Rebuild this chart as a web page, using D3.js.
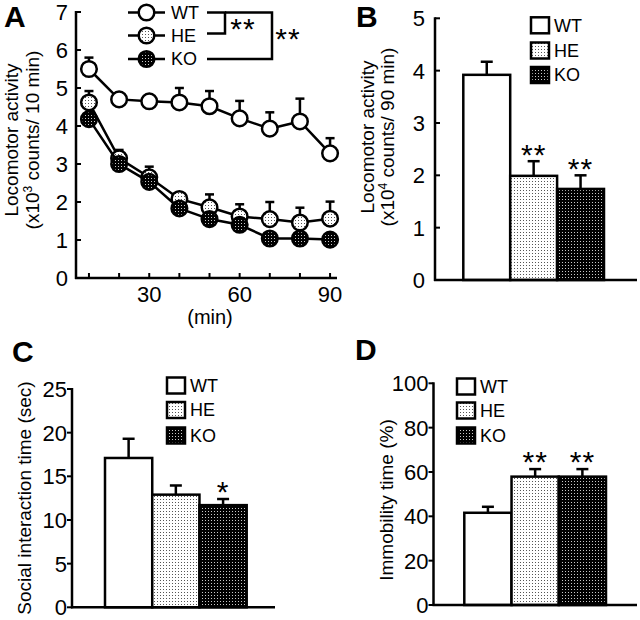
<!DOCTYPE html>
<html><head><meta charset="utf-8">
<script src="https://cdn.jsdelivr.net/npm/d3@7"></script>
<style>
body{margin:0;background:#fff;}
text{font-family:"Liberation Sans",Arial,Helvetica,sans-serif;fill:#000;}
</style></head>
<body>
<svg id="fig" width="640" height="620"></svg>
<script>
// ---------- DATA ----------
const groups = ["WT", "HE", "KO"];
// Panel A: time course (x10^3 counts / 10 min)
const timeMin = [10, 20, 30, 40, 50, 60, 70, 80, 90];
const wtA    = [5.50, 4.70, 4.65, 4.62, 4.52, 4.20, 3.93, 4.12, 3.28];
const wtAErr = [0.30, 0.08, 0.08, 0.38, 0.40, 0.46, 0.43, 0.60, 0.40];
const heA    = [4.62, 3.15, 2.65, 2.08, 1.86, 1.62, 1.55, 1.46, 1.56];
const heAErr = [0.30, 0.22, 0.28, 0.12, 0.34, 0.32, 0.45, 0.39, 0.45];
const koA    = [4.18, 3.00, 2.53, 1.83, 1.55, 1.40, 1.04, 1.04, 1.01];
const koAErr = [0.12, 0.12, 0.12, 0.08, 0.08, 0.08, 0.06, 0.06, 0.06];
const aYTicks = [0, 1, 2, 3, 4, 5, 6, 7];
const aXTicks = [10, 20, 30, 40, 50, 60, 70, 80, 90];
const aXLabels = [30, 60, 90];
// Panel B: total locomotor activity (x10^4 counts / 90 min)
const bValues = [3.92, 1.99, 1.74];
const bErr    = [0.25, 0.28, 0.26];
const bSig    = ["", "**", "**"];
const bYTicks = [0, 1, 2, 3, 4, 5];
// Panel C: social interaction time (sec)
const cValues = [17.1, 12.9, 11.7];
const cErr    = [2.2, 1.05, 0.7];
const cSig    = ["", "", "*"];
const cYTicks = [0, 5, 10, 15, 20, 25];
// Panel D: immobility time (%)
const dValues = [41.6, 57.9, 57.9];
const dErr    = [2.7, 3.4, 3.4];
const dSig    = ["", "**", "**"];
const dYTicks = [0, 20, 40, 60, 80, 100];

// ---------- DRAWING ----------
const svg = d3.select("#fig");
const defs = svg.append("defs");
function makePattern(id, bg, dot){
  const p = defs.append("pattern").attr("id", id).attr("patternUnits","userSpaceOnUse")
    .attr("width",3).attr("height",3);
  p.append("rect").attr("width",3).attr("height",3).attr("fill",bg);
  p.append("rect").attr("x",1).attr("y",1).attr("width",1).attr("height",1).attr("fill",dot);
}
makePattern("pHE", "#ffffff", "#555555");
makePattern("pKO", "#000000", "#c8c8c8");
const fills = {WT: "#ffffff", HE: "url(#pHE)", KO: "url(#pKO)"};
const LW = 2.5;
const TICKFONT = 22, LEGFONT = 18, LABFONT = 19, STARFONT = 30;

function panelLetter(t, x, y){
  svg.append("text").attr("x",x).attr("y",y).attr("font-size",30).attr("font-weight","bold").text(t);
}
function stars(x, cy, s){
  svg.append("text").attr("x",x).attr("y",cy+0.58*STARFONT).attr("text-anchor","middle")
    .attr("font-size",STARFONT).attr("letter-spacing",1).text(s);
}
function yAxis(g, y, x0, ticks, dir, gap){
  g.append("line").attr("x1",x0).attr("x2",x0).attr("y1",y(ticks[ticks.length-1])-1).attr("y2",y(0)+1)
    .attr("stroke","#000").attr("stroke-width",LW);
  ticks.forEach(t=>{
    g.append("line").attr("x1",x0).attr("x2",x0+dir*5).attr("y1",y(t)).attr("y2",y(t))
      .attr("stroke","#000").attr("stroke-width",2);
    g.append("text").attr("x",x0-gap).attr("y",y(t)).attr("dy","0.36em").attr("text-anchor","end")
      .attr("font-size",TICKFONT).text(t);
  });
}
function yLabel(lines, cx, cy, baseX){
  lines.forEach((s,i)=>{
    const bx = baseX[i];
    const t = svg.append("text").attr("transform",`translate(${bx},${cy}) rotate(-90)`)
      .attr("text-anchor","middle").attr("font-size",LABFONT);
    if (Array.isArray(s)) {
      s.forEach(part=>{
        const ts = t.append("tspan").text(part.t);
        if (part.sup) ts.attr("font-size",12).attr("dy",-7);
        else if (part.after) ts.attr("dy",7);
      });
    } else t.text(s);
  });
}
function legendBoxes(x, ys){
  groups.forEach((gname,i)=>{
    svg.append("rect").attr("x",x).attr("y",ys[i]-8).attr("width",18).attr("height",16)
      .attr("fill",fills[gname]).attr("stroke","#000").attr("stroke-width",LW);
    svg.append("text").attr("x",x+23).attr("y",ys[i]).attr("dy","0.36em").attr("font-size",LEGFONT).text(gname);
  });
}
function barPanel(o){
  const g = svg.append("g");
  const y = d3.scaleLinear().domain(o.yDomain).range(o.yRange);
  const x = d3.scaleBand().domain(groups).range(o.barRange).paddingInner(0);
  groups.forEach((gname,i)=>{
    const v = o.values[i], e = o.err[i];
    const cx = x(gname) + x.bandwidth()/2;
    g.append("line").attr("x1",cx).attr("x2",cx).attr("y1",y(v)).attr("y2",y(v+e))
      .attr("stroke","#000").attr("stroke-width",LW);
    g.append("line").attr("x1",cx-6).attr("x2",cx+6).attr("y1",y(v+e)).attr("y2",y(v+e))
      .attr("stroke","#000").attr("stroke-width",LW);
    g.append("rect").attr("x",x(gname)).attr("y",y(v)).attr("width",x.bandwidth()).attr("height",y(0)-y(v))
      .attr("fill",fills[gname]).attr("stroke","#000").attr("stroke-width",LW);
    if (o.sig[i]) stars(cx, y(v+e)-14, o.sig[i]);
  });
  g.append("line").attr("x1",o.axisX-1).attr("x2",o.xEnd).attr("y1",y(0)).attr("y2",y(0))
    .attr("stroke","#000").attr("stroke-width",LW);
  yAxis(g, y, o.axisX, o.ticks, o.tickDir, o.gap);
}

// ----- Panel A -----
(function(){
  const g = svg.append("g");
  const x = d3.scaleLinear().domain([5.7, 92.3]).range([76, 337]);
  const y = d3.scaleLinear().domain([0, 7]).range([278, 12]);
  g.append("line").attr("x1",75).attr("x2",337).attr("y1",y(0)).attr("y2",y(0)).attr("stroke","#000").attr("stroke-width",LW);
  aXTicks.forEach(t=>{
    g.append("line").attr("x1",x(t)).attr("x2",x(t)).attr("y1",y(0)).attr("y2",y(0)-5).attr("stroke","#000").attr("stroke-width",2);
  });
  aXLabels.forEach(t=>{
    g.append("text").attr("x",x(t)).attr("y",302).attr("text-anchor","middle").attr("font-size",TICKFONT).text(t);
  });
  g.append("text").attr("x",210).attr("y",324).attr("text-anchor","middle").attr("font-size",20).text("(min)");
  yAxis(g, y, 76, aYTicks, 1, 8);
  const series = [
    {name:"WT", v:wtA, e:wtAErr},
    {name:"HE", v:heA, e:heAErr},
    {name:"KO", v:koA, e:koAErr}
  ];
  const line = d3.line().x((d,i)=>x(timeMin[i])).y(d=>y(d));
  series.forEach(s=>{
    s.v.forEach((v,i)=>{
      const cx = x(timeMin[i]);
      g.append("line").attr("x1",cx).attr("x2",cx).attr("y1",y(v)).attr("y2",y(v+s.e[i])).attr("stroke","#000").attr("stroke-width",LW);
      g.append("line").attr("x1",cx-4.5).attr("x2",cx+4.5).attr("y1",y(v+s.e[i])).attr("y2",y(v+s.e[i])).attr("stroke","#000").attr("stroke-width",LW);
    });
    g.append("path").attr("d",line(s.v)).attr("fill","none").attr("stroke","#000").attr("stroke-width",LW);
    s.v.forEach((v,i)=>{
      g.append("circle").attr("cx",x(timeMin[i])).attr("cy",y(v)).attr("r",7.8)
        .attr("fill",fills[s.name]).attr("stroke","#000").attr("stroke-width",LW);
    });
  });
  const ly = [12.5, 35.5, 59];
  groups.forEach((gname,i)=>{
    svg.append("line").attr("x1",128).attr("x2",165).attr("y1",ly[i]).attr("y2",ly[i]).attr("stroke","#000").attr("stroke-width",LW);
    svg.append("circle").attr("cx",146.5).attr("cy",ly[i]).attr("r",7.8).attr("fill",fills[gname]).attr("stroke","#000").attr("stroke-width",LW);
    svg.append("text").attr("x",171).attr("y",ly[i]).attr("dy","0.36em").attr("font-size",LEGFONT).text(gname);
  });
  const br = svg.append("g").attr("fill","none").attr("stroke","#000").attr("stroke-width",LW);
  br.append("path").attr("d",`M207,${ly[0]}H225V${ly[1]-2}H207`);
  br.append("path").attr("d",`M225,${ly[0]}H272V${ly[2]}H207`);
  stars(243, 22, "**");
  stars(288, 32, "**");
  panelLetter("A", 4, 27);
  yLabel(["Locomotor activity", [{t:"(x10"},{t:"3",sup:true},{t:" counts/ 10 min)",after:true}]], 0, 140, [18, 39]);
})();

// ----- Panel B -----
barPanel({yDomain:[0,5], yRange:[280,18.3], barRange:[463.3,604], values:bValues, err:bErr, sig:bSig,
  axisX:435, xEnd:637, ticks:bYTicks, tickDir:1, gap:10});
legendBoxes(531, [25.3, 50.5, 75]);
panelLetter("B", 356, 27);
yLabel(["Locomotor activity", [{t:"(x10"},{t:"4",sup:true},{t:" counts/ 90 min)",after:true}]], 0, 137, [374, 394]);

// ----- Panel C -----
barPanel({yDomain:[0,25], yRange:[607.3,389], barRange:[105,246.7], values:cValues, err:cErr, sig:cSig,
  axisX:72, xEnd:275, ticks:cYTicks, tickDir:-1, gap:5});
legendBoxes(167, [385.5, 410, 435.5]);
panelLetter("C", 12, 362);
yLabel(["Social interaction time (sec)"], 0, 498, [31]);

// ----- Panel D -----
barPanel({yDomain:[0,100], yRange:[605,383.3], barRange:[464.3,606], values:dValues, err:dErr, sig:dSig,
  axisX:433.5, xEnd:637, ticks:dYTicks, tickDir:-1, gap:5});
legendBoxes(457, [386.5, 410.5, 435.5]);
panelLetter("D", 355, 360);
yLabel(["Immobility time (%)"], 0, 500, [393]);
</script>
</body></html>
